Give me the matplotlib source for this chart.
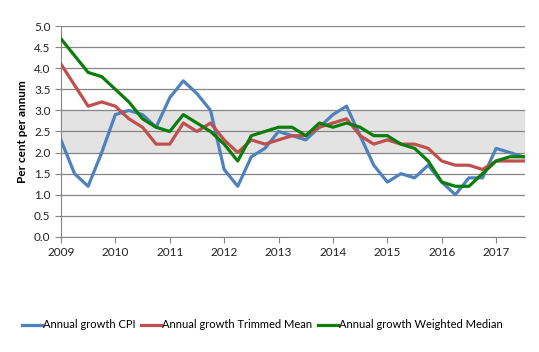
import numpy as np
import matplotlib.pyplot as plt

# quarterly annual growth rates, Mar 2009 to Sep 2017
cpi = [2.3, 1.5, 1.2, 2.0, 2.9, 3.0, 2.9, 2.6, 3.3, 3.7, 3.4, 3.0,
       1.6, 1.2, 1.9, 2.1, 2.5, 2.4, 2.3, 2.6, 2.9, 3.1, 2.4, 1.7,
       1.3, 1.5, 1.4, 1.7, 1.3, 1.0, 1.4, 1.4, 2.1, 2.0, 1.9]
trimmed = [4.1, 3.6, 3.1, 3.2, 3.1, 2.8, 2.6, 2.2, 2.2, 2.7, 2.5, 2.7,
           2.3, 2.0, 2.3, 2.2, 2.3, 2.4, 2.4, 2.6, 2.7, 2.8, 2.4, 2.2,
           2.3, 2.2, 2.2, 2.1, 1.8, 1.7, 1.7, 1.6, 1.8, 1.8, 1.8]
weighted = [4.7, 4.3, 3.9, 3.8, 3.5, 3.2, 2.8, 2.6, 2.5, 2.9, 2.7, 2.5,
            2.2, 1.8, 2.4, 2.5, 2.6, 2.6, 2.4, 2.7, 2.6, 2.7, 2.6, 2.4,
            2.4, 2.2, 2.1, 1.8, 1.3, 1.2, 1.2, 1.5, 1.8, 1.9, 1.9]
quarters = 2009 + 0.25 * np.arange(len(cpi))
years = list(range(2009, 2018))
band = (2.0, 3.0)  # RBA target band

plt.rcParams['font.family'] = ['Lato', 'DejaVu Sans']

fig = plt.figure(figsize=(5.39, 3.52), dpi=100)
ax = fig.add_axes([0.113, 0.327, 0.861, 0.599])

# target band with soft edges
ax.axhspan(band[0] - 0.04, band[1] + 0.02, color='#efefef', zorder=0, lw=0)
ax.axhspan(band[0], band[1], color='#e3e3e3', zorder=0, lw=0)

ax.plot(quarters, cpi, color='#4f81bd', lw=2.3, label='Annual growth CPI', zorder=3)
ax.plot(quarters, trimmed, color='#c0504d', lw=2.3, label='Annual growth Trimmed Mean', zorder=3)
ax.plot(quarters, weighted, color='#0b7d0b', lw=2.3, label='Annual growth Weighted Median', zorder=4)

ax.set_xlim(2009, 2017.53)
ax.set_ylim(0, 5)
ax.set_yticks(np.arange(0, 5.01, 0.5))
ax.set_yticklabels([f'{v:.1f}' for v in np.arange(0, 5.01, 0.5)])
ax.set_xticks(years)
ax.set_xticklabels([str(y) for y in years])
ax.grid(axis='y', color='#858585', lw=0.9, zorder=1)
ax.set_axisbelow(True)

for s in ['top', 'right']:
    ax.spines[s].set_visible(False)
for s in ['left', 'bottom']:
    ax.spines[s].set_color('#858585')
ax.tick_params(axis='both', colors='#858585', labelcolor='#222222',
               labelsize=8.5, length=4, direction='out')
ax.tick_params(axis='x', pad=3)

ax.set_ylabel('Per cent per annum', fontsize=8.5, fontweight='bold', labelpad=4)

fig.legend(loc='center', bbox_to_anchor=(0.487, 0.077), ncol=3, frameon=False,
           fontsize=8, handlelength=1.8, handletextpad=0.1, columnspacing=0.5)

fig.savefig('out.png', dpi=100)
